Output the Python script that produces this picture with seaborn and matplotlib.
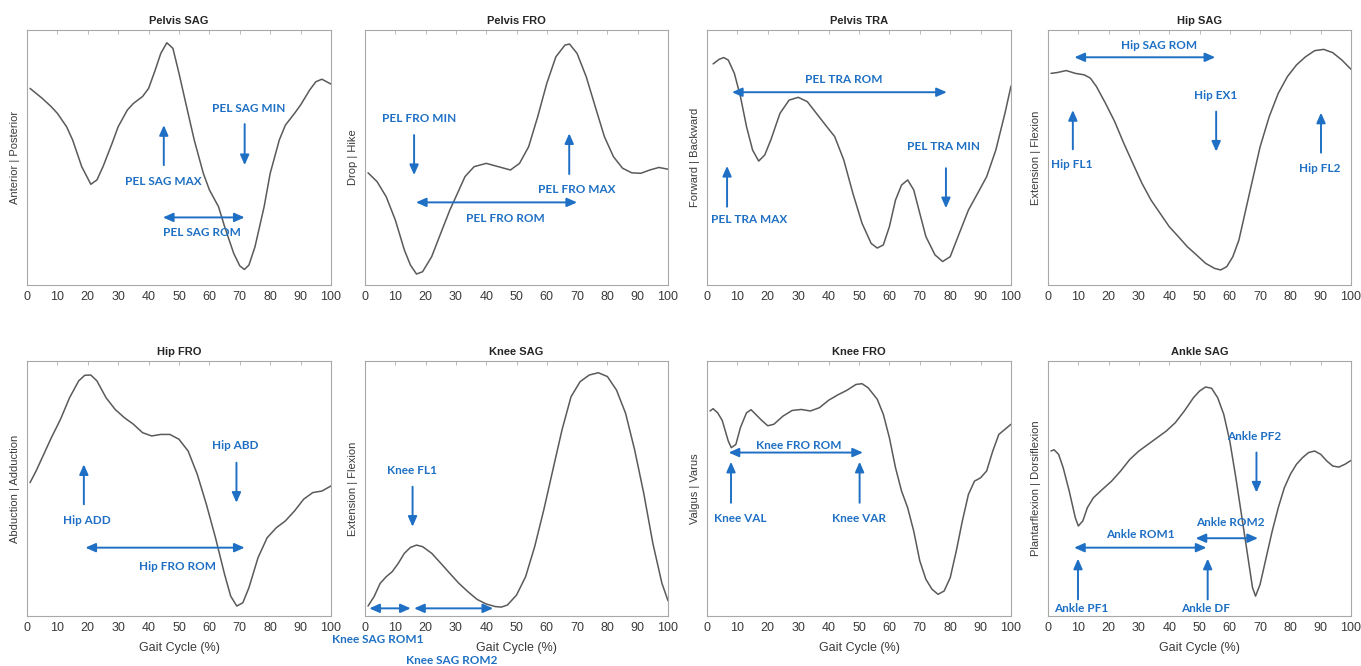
import matplotlib
matplotlib.use("Agg")
import matplotlib.pyplot as plt
import seaborn as sns
import pandas as pd

# ---- curve data (gait cycle %, normalised angle 0..1 of the axis height) ----
pel_sag_x = [1, 5, 8, 10, 13, 15, 18, 21, 23, 25, 28, 30, 33, 35, 38, 40, 42, 44, 46, 48, 50, 52, 55, 58,
             60, 63, 65, 68, 70, 71.5, 73, 75, 78, 80, 83, 85, 88, 90, 93, 95, 97, 100]
pel_sag_y = [0.771, 0.732, 0.699, 0.673, 0.621, 0.569, 0.464, 0.395, 0.412, 0.464, 0.556, 0.621, 0.686, 0.712,
             0.739, 0.771, 0.837, 0.908, 0.950, 0.928, 0.830, 0.725, 0.569, 0.438, 0.373, 0.307, 0.229, 0.124,
             0.075, 0.061, 0.078, 0.150, 0.307, 0.438, 0.569, 0.627, 0.673, 0.706, 0.765, 0.797, 0.807, 0.788]

pel_fro_x = [1, 4, 7, 10, 13, 15, 17, 19, 22, 25, 28, 30, 33, 36, 40, 44, 48, 51, 54, 57, 60, 63, 66, 67.5,
             70, 73, 76, 79, 82, 85, 88, 91, 94, 97, 100]
pel_fro_y = [0.440, 0.405, 0.346, 0.255, 0.137, 0.078, 0.043, 0.052, 0.111, 0.203, 0.294, 0.346, 0.425, 0.464,
             0.477, 0.464, 0.451, 0.477, 0.542, 0.660, 0.791, 0.895, 0.941, 0.945, 0.908, 0.817, 0.699, 0.582,
             0.503, 0.458, 0.440, 0.438, 0.451, 0.461, 0.454]

pel_tra_x = [2, 4, 5.5, 7, 9, 11, 13, 15, 17, 19, 21, 24, 27, 30, 33, 36, 39, 42, 45, 48, 51, 54, 56, 58,
             60, 62, 64, 66, 68, 70, 72, 75, 77.5, 80, 83, 86, 89, 92, 95, 98, 100]
pel_tra_y = [0.867, 0.885, 0.892, 0.882, 0.830, 0.739, 0.621, 0.529, 0.486, 0.510, 0.569, 0.673, 0.725, 0.736,
             0.719, 0.673, 0.627, 0.582, 0.490, 0.359, 0.242, 0.163, 0.145, 0.157, 0.229, 0.333, 0.392, 0.412,
             0.373, 0.281, 0.190, 0.118, 0.092, 0.111, 0.203, 0.294, 0.359, 0.425, 0.529, 0.673, 0.780]

hip_sag_x = [1, 3, 6, 9, 12, 14, 16, 19, 22, 25, 28, 31, 34, 37, 40, 43, 46, 49, 52, 55, 57, 59, 61, 63,
             65, 67, 70, 73, 76, 79, 82, 85, 88, 91, 94, 97, 100]
hip_sag_y = [0.830, 0.833, 0.841, 0.830, 0.824, 0.811, 0.778, 0.712, 0.641, 0.556, 0.477, 0.399, 0.333, 0.281,
             0.229, 0.190, 0.150, 0.118, 0.085, 0.065, 0.059, 0.072, 0.111, 0.176, 0.281, 0.386, 0.542, 0.660,
             0.752, 0.817, 0.863, 0.895, 0.919, 0.924, 0.911, 0.882, 0.846]

hip_fro_x = [1, 3, 5, 8, 11, 14, 17, 19, 21, 23, 26, 29, 32, 35, 38, 41, 44, 47, 50, 53, 56, 59, 62, 65,
             67, 69, 71, 73, 76, 79, 82, 85, 88, 91, 94, 97, 100]
hip_fro_y = [0.523, 0.569, 0.621, 0.699, 0.771, 0.856, 0.922, 0.944, 0.945, 0.922, 0.856, 0.810, 0.778, 0.752,
             0.719, 0.706, 0.712, 0.712, 0.693, 0.647, 0.556, 0.438, 0.307, 0.163, 0.078, 0.039, 0.052, 0.111,
             0.229, 0.307, 0.346, 0.373, 0.412, 0.458, 0.484, 0.490, 0.510]

knee_sag_x = [1, 3, 5, 7, 9, 11, 13, 15, 17, 19, 22, 25, 28, 31, 34, 37, 40, 43, 45, 47, 50, 53, 56, 59,
              62, 65, 68, 71, 74, 77, 80, 83, 86, 89, 92, 95, 98, 100]
knee_sag_y = [0.039, 0.076, 0.128, 0.154, 0.174, 0.207, 0.246, 0.269, 0.278, 0.272, 0.246, 0.207, 0.167, 0.128,
              0.095, 0.065, 0.047, 0.037, 0.035, 0.043, 0.082, 0.154, 0.272, 0.416, 0.573, 0.729, 0.860, 0.919,
              0.945, 0.954, 0.939, 0.886, 0.795, 0.651, 0.481, 0.285, 0.128, 0.060]

knee_fro_x = [1, 2, 3.5, 5, 7, 8, 9.5, 11, 13, 14.5, 16, 18, 20, 22, 25, 28, 31, 34, 37, 40, 43, 46, 49, 51,
              53, 56, 58, 60, 62, 64, 66, 68, 70, 72, 74, 76, 78, 80, 82, 84, 86, 88, 90, 92, 94, 96, 98, 100]
knee_fro_y = [0.804, 0.813, 0.797, 0.767, 0.686, 0.660, 0.673, 0.739, 0.797, 0.809, 0.791, 0.767, 0.746, 0.752,
              0.784, 0.806, 0.810, 0.804, 0.817, 0.846, 0.867, 0.885, 0.908, 0.911, 0.895, 0.850, 0.791, 0.699,
              0.582, 0.490, 0.425, 0.333, 0.216, 0.144, 0.105, 0.085, 0.098, 0.150, 0.255, 0.373, 0.477, 0.529,
              0.542, 0.569, 0.647, 0.712, 0.732, 0.752]

ankle_sag_x = [1, 2, 3.5, 5, 7, 9, 10, 11.5, 13, 15, 18, 21, 24, 27, 30, 33, 36, 39, 42, 45, 48, 50, 52, 54,
               56, 58, 60, 62, 64, 66, 67.5, 68.5, 70, 72, 74, 76, 78, 80, 82, 84, 86, 88, 90, 92, 94, 96, 98, 100]
ankle_sag_y = [0.647, 0.652, 0.634, 0.582, 0.490, 0.386, 0.353, 0.373, 0.425, 0.464, 0.497, 0.529, 0.569, 0.614,
               0.647, 0.673, 0.699, 0.725, 0.758, 0.804, 0.856, 0.882, 0.898, 0.893, 0.856, 0.791, 0.686, 0.542,
               0.386, 0.229, 0.111, 0.078, 0.124, 0.229, 0.333, 0.425, 0.503, 0.556, 0.595, 0.621, 0.641, 0.647,
               0.634, 0.608, 0.588, 0.584, 0.595, 0.610]

titles = ['Pelvis SAG', 'Pelvis FRO', 'Pelvis TRA', 'Hip SAG',
          'Hip FRO', 'Knee SAG', 'Knee FRO', 'Ankle SAG']
ylabels = ['Anterior | Posterior', 'Drop | Hike', 'Forward | Backward', 'Extension | Flexion',
           'Abduction | Adduction', 'Extension | Flexion', 'Valgus | Varus', 'Plantarflexion | Dorsiflexion']
curves = [(pel_sag_x, pel_sag_y), (pel_fro_x, pel_fro_y), (pel_tra_x, pel_tra_y), (hip_sag_x, hip_sag_y),
          (hip_fro_x, hip_fro_y), (knee_sag_x, knee_sag_y), (knee_fro_x, knee_fro_y), (ankle_sag_x, ankle_sag_y)]

# annotations: labels (text, x, y), single arrows (x, y_from, y_to), double arrows (x0, x1, y)
labels = [
    [('PEL SAG MAX', 45, 0.405), ('PEL SAG MIN', 72.9, 0.693), ('PEL SAG ROM', 57.6, 0.205)],
    [('PEL FRO MIN', 17.9, 0.654), ('PEL FRO MAX', 69.8, 0.376), ('PEL FRO ROM', 46.4, 0.261)],
    [('PEL TRA ROM', 45.1, 0.807), ('PEL TRA MAX', 13.9, 0.255), ('PEL TRA MIN', 77.8, 0.542)],
    [('Hip SAG ROM', 36.8, 0.939), ('Hip FL1', 7.9, 0.471), ('Hip EX1', 55.2, 0.745), ('Hip FL2', 89.8, 0.458)],
    [('Hip ADD', 19.6, 0.375), ('Hip ABD', 68.4, 0.667), ('Hip FRO ROM', 49.5, 0.196)],
    [('Knee FL1', 15.4, 0.569), ('Knee SAG ROM1', 4.3, -0.094), ('Knee SAG ROM2', 28.7, -0.173)],
    [('Knee FRO ROM', 30.2, 0.669), ('Knee VAL', 11, 0.383), ('Knee VAR', 49.9, 0.383)],
    [('Ankle PF2', 67.9, 0.702), ('Ankle ROM2', 60.2, 0.366), ('Ankle ROM1', 30.5, 0.318),
     ('Ankle PF1', 10.8, 0.029), ('Ankle DF', 52, 0.029)],
]
arrows = [
    [(45, 0.47, 0.627), (71.6, 0.631, 0.47)],
    [(16.2, 0.588, 0.431), (67.4, 0.435, 0.595)],
    [(6.6, 0.307, 0.467), (78.6, 0.458, 0.301)],
    [(8.2, 0.532, 0.686), (55.5, 0.680, 0.523), (90.1, 0.519, 0.676)],
    [(18.7, 0.438, 0.595), (68.9, 0.601, 0.444)],
    [(15.7, 0.507, 0.350)],
    [(7.9, 0.444, 0.605), (50.2, 0.444, 0.605)],
    [(68.8, 0.641, 0.484), (9.9, 0.065, 0.225), (52.7, 0.065, 0.225)],
]
spans = [
    [(44.7, 71.6, 0.265)],
    [(16.8, 70, 0.324)],
    [(8.2, 78.9, 0.756)],
    [(8.7, 55.2, 0.893)],
    [(19.2, 71.6, 0.268)],
    [(1.4, 15.1, 0.030), (16.2, 42.3, 0.030)],
    [(7.1, 51.3, 0.641)],
    [(48.7, 69.3, 0.305), (8.6, 52.3, 0.268)],
]

BLUE = '#1f70c4'
LINE = '#5a5a5a'

sns.set_theme(style='white')
plt.rcParams['font.family'] = ['Liberation Sans', 'DejaVu Sans']

W, H = 1361, 666
fig = plt.figure(figsize=(W / 100, H / 100), dpi=100)

lefts = [27, 365, 707, 1048]
widths = [304, 303, 304, 303]
tops = [30, 361]
ax_h = 255

for i, (title, ylab, (cx, cy)) in enumerate(zip(titles, ylabels, curves)):
    row, col = divmod(i, 4)
    ax = fig.add_axes([lefts[col] / W, 1 - (tops[row] + ax_h) / H, widths[col] / W, ax_h / H])
    df = pd.DataFrame({'gait': cx, 'angle': cy})
    sns.lineplot(data=df, x='gait', y='angle', ax=ax, color=LINE, lw=1.1)

    ax.set_xlim(0, 100)
    ax.set_ylim(0, 1)
    ax.set_xticks(range(0, 101, 10))
    ax.set_yticks([])
    ax.tick_params(axis='x', direction='in', top=True, length=3, width=0.6, color='#b0b0b0',
                   labelsize=9, labelcolor='#3a3a3a', pad=4)
    for sp in ax.spines.values():
        sp.set_color('#a8a8a8')
        sp.set_linewidth(0.8)
    ax.set_title(title, fontsize=8, fontweight='bold', pad=4)
    ax.set_ylabel(ylab, fontsize=8, color='#3a3a3a', labelpad=5)
    ax.set_xlabel('Gait Cycle (%)' if row == 1 else '', fontsize=9, color='#3a3a3a', labelpad=6)

    for txt, tx, ty in labels[i]:
        ax.text(tx, ty, txt, color=BLUE, fontsize=8.5, fontweight='bold', family=['Lato', 'DejaVu Sans'],
                ha='center', va='center', clip_on=False)
    for ax_x, y0, y1 in arrows[i]:
        ax.annotate('', xy=(ax_x, y1), xytext=(ax_x, y0),
                    arrowprops=dict(arrowstyle='-|>,head_length=0.5,head_width=0.22', color=BLUE, lw=1.4,
                                    mutation_scale=12, shrinkA=0, shrinkB=0))
    for x0, x1, sy in spans[i]:
        ax.annotate('', xy=(x1, sy), xytext=(x0, sy), annotation_clip=False,
                    arrowprops=dict(arrowstyle='<|-|>,head_length=0.5,head_width=0.22', color=BLUE, lw=1.4,
                                    mutation_scale=12, shrinkA=0, shrinkB=0))

fig.savefig('out.png', dpi=100)
